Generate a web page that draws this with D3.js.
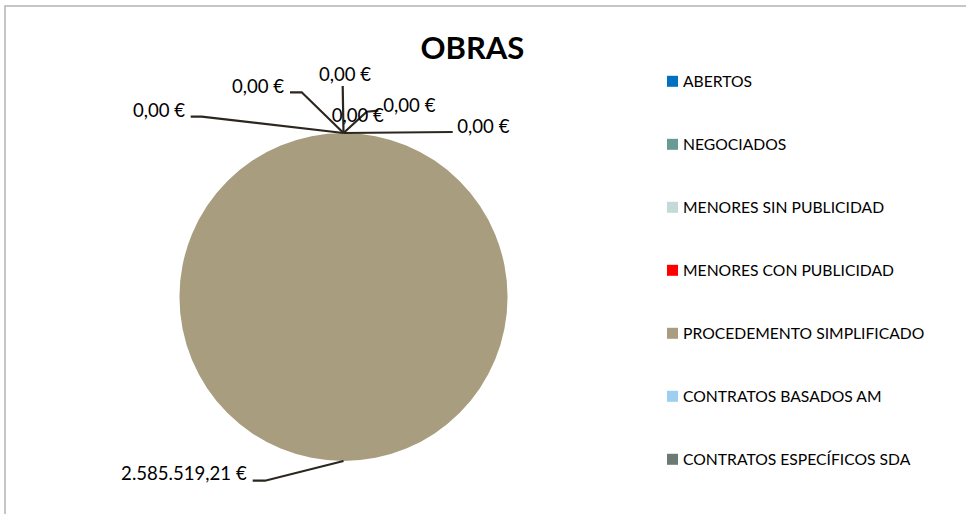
<!DOCTYPE html>
<html>
<head>
<meta charset="utf-8">
<script src="https://cdn.jsdelivr.net/npm/d3@7"></script>
<style>
  body { margin: 0; background: #fff; }
  svg { display: block; font-family: Lato, "Open Sans", sans-serif; }
</style>
</head>
<body>
<div id="chart"></div>
<script>
// chart data
var title = "OBRAS";
var categories = ["ABERTOS", "NEGOCIADOS", "MENORES SIN PUBLICIDAD", "MENORES CON PUBLICIDAD",
  "PROCEDEMENTO SIMPLIFICADO", "CONTRATOS BASADOS AM", "CONTRATOS ESPECÍFICOS SDA"];
var values = [0, 0, 0, 0, 2585519.21, 0, 0];
var colors = ["#0070c0", "#6a9a96", "#c5d9d8", "#ff0000", "#a89d7e", "#9dcff0", "#6b7b74"];

var width = 966, height = 514;
var cx = 343.5, cy = 297, radius = 164;

// label placement (offsets from the slice anchor on the rim), like excel put them
var labelLayout = [
  { pts: [[0, 0], [109.2, -1]], at: [113.8, 0.3], anchor: "start" },
  { pts: null, at: [-11.8, -11.3], anchor: "start" },
  { pts: [[0, 0], [23.2, -21.3], [34.8, -22.3]], at: [39.8, -21.3], anchor: "start" },
  { pts: [[0, 0], [-0.8, -47]], at: [1.5, -52.3], anchor: "middle" },
  { pts: [[0, 0], [-78.5, 19.7], [-90.8, 19.7]], at: [-96.8, 19], anchor: "end" },
  { pts: [[0, 0], [-41.8, -40.7], [-53.5, -40.7]], at: [-59.5, -39.7], anchor: "end" },
  { pts: [[0, 0], [-141.8, -16.3], [-152.8, -16.3]], at: [-158.5, -16.3], anchor: "end" }
];

var euro = d3.formatLocale({ decimal: ",", thousands: ".", grouping: [3], currency: ["", " €"] }).format("$,.2f");

var svg = d3.select("#chart").append("svg")
  .attr("width", width)
  .attr("height", height);

// chart frame
svg.append("rect")
  .attr("x", 5).attr("y", 6)
  .attr("width", width + 10).attr("height", height + 10)
  .attr("fill", "#fff")
  .attr("stroke", "#b4b4b4")
  .attr("stroke-width", 1.5);

svg.append("text")
  .attr("x", 472.4).attr("y", 59.3)
  .attr("text-anchor", "middle")
  .style("font-weight", "bold")
  .style("font-size", "31px")
  .attr("fill", "#000")
  .text(title);

var pie = d3.pie().sort(null).value(function (d) { return d; });
var arcs = pie(values);
var arc = d3.arc().innerRadius(0).outerRadius(radius);

var g = svg.append("g").attr("transform", "translate(" + cx + "," + cy + ")");

g.selectAll("path.slice")
  .data(arcs)
  .enter()
  .append("path")
  .attr("class", "slice")
  .attr("d", arc)
  .attr("fill", function (d, i) { return colors[i]; });

// anchor on the rim, at the middle angle of each slice
function rimPoint(d) {
  var a = (d.startAngle + d.endAngle) / 2;
  return [Math.sin(a) * radius, -Math.cos(a) * radius];
}

var line = d3.line();
arcs.forEach(function (d, i) {
  var p = rimPoint(d);
  var lay = labelLayout[i];
  if (lay.pts) {
    g.append("path")
      .attr("d", line(lay.pts.map(function (q) { return [p[0] + q[0], p[1] + q[1]]; })))
      .attr("fill", "none")
      .attr("stroke", "#2b271f")
      .attr("stroke-width", 2.2);
  }
});
arcs.forEach(function (d, i) {
  var p = rimPoint(d);
  var lay = labelLayout[i];
  g.append("text")
    .attr("x", p[0] + lay.at[0])
    .attr("y", p[1] + lay.at[1])
    .attr("text-anchor", lay.anchor)
    .style("font-size", "18.6px")
    .attr("fill", "#000")
    .text(euro(values[i]));
});

// legend
var legend = svg.append("g").attr("transform", "translate(667,0)");
var ly = d3.scalePoint().domain(categories).range([81.3, 459.3]);
var items = legend.selectAll("g.item")
  .data(categories)
  .enter()
  .append("g")
  .attr("class", "item")
  .attr("transform", function (d) { return "translate(0," + ly(d) + ")"; });
items.append("rect")
  .attr("x", 0).attr("y", -5.5)
  .attr("width", 11).attr("height", 11)
  .attr("fill", function (d, i) { return colors[i]; });
items.append("text")
  .attr("x", 16).attr("y", 5.5)
  .style("font-size", "15.7px")
  .attr("fill", "#000")
  .text(function (d) { return d; });
</script>
</body>
</html>
